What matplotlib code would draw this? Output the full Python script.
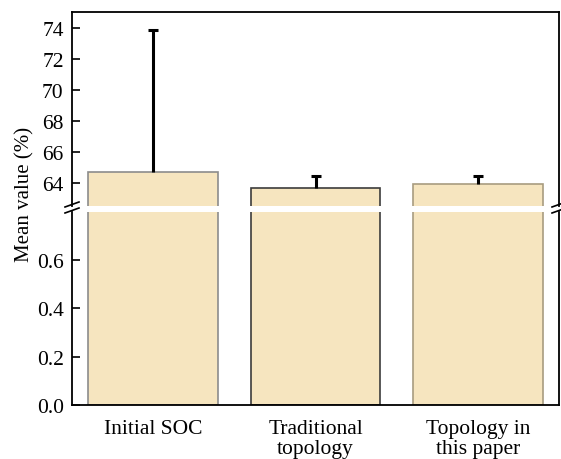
import numpy as np
import matplotlib
matplotlib.use('Agg')
import matplotlib.pyplot as plt

# bar data
categories = ['Initial SOC', 'Traditional\ntopology', 'Topology in\nthis paper']
means = [64.67, 63.66, 63.92]
errors_up = [9.16, 0.75, 0.49]

plt.rcParams['font.family'] = ['Liberation Serif', 'DejaVu Serif']
plt.rcParams['font.size'] = 15

fill = '#F6E5BF'
edges = ['#8c8c8c', '#3c3c3c', '#a89c80']

fig = plt.figure(figsize=(5.61, 4.6), dpi=100)
x0, x1 = 72 / 561, 559 / 561
ax_top = fig.add_axes([x0, 1 - 207 / 460, x1 - x0, 194 / 460])
ax_bot = fig.add_axes([x0, 1 - 405.7 / 460, x1 - x0, 192.7 / 460])

x = np.arange(len(categories))
for ax in (ax_top, ax_bot):
    ax.bar(x, means, width=0.8, color=fill, edgecolor=edges, linewidth=1.2, zorder=2)
    ax.set_xlim(-0.5, 2.5)
    for s in ax.spines.values():
        s.set_linewidth(1.3)
    ax.tick_params(axis='y', direction='in', length=6, width=1.2, labelsize=15.5, pad=6)

# upper error bars only
tops = np.array(means) + np.array(errors_up)
ax_top.vlines(x, means, tops, color='black', lw=2.2, zorder=3)
ax_top.scatter(x, tops, marker='_', s=45, linewidths=2.2, color='black', zorder=3)

ax_top.set_ylim(62.5, 75)
ax_top.set_yticks([64, 66, 68, 70, 72, 74])
ax_top.spines['bottom'].set_visible(False)
ax_top.set_xticks([])

ax_bot.set_ylim(0, 0.8)
ax_bot.set_yticks([0.0, 0.2, 0.4, 0.6])
ax_bot.set_yticklabels(['0.0', '0.2', '0.4', '0.6'])
ax_bot.spines['top'].set_visible(False)
ax_bot.set_xticks(x)
ax_bot.set_xticklabels(categories, fontsize=15.5, linespacing=1.12)
ax_bot.tick_params(axis='x', length=0, pad=10)

# break marks on both spines
for xs in (x0, x1):
    for yb in (205.5, 211.5):
        yy = 1 - yb / 460
        fig.lines.append(plt.Line2D([xs - 7 / 561, xs + 7 / 561], [yy - 2.5 / 460, yy + 2.5 / 460],
                                    transform=fig.transFigure, color='black', lw=1.2))

fig.text(25 / 561, 1 - 194 / 460, 'Mean value (%)', rotation=90, ha='center', va='center', fontsize=15)

fig.savefig('out.png', dpi=100)
